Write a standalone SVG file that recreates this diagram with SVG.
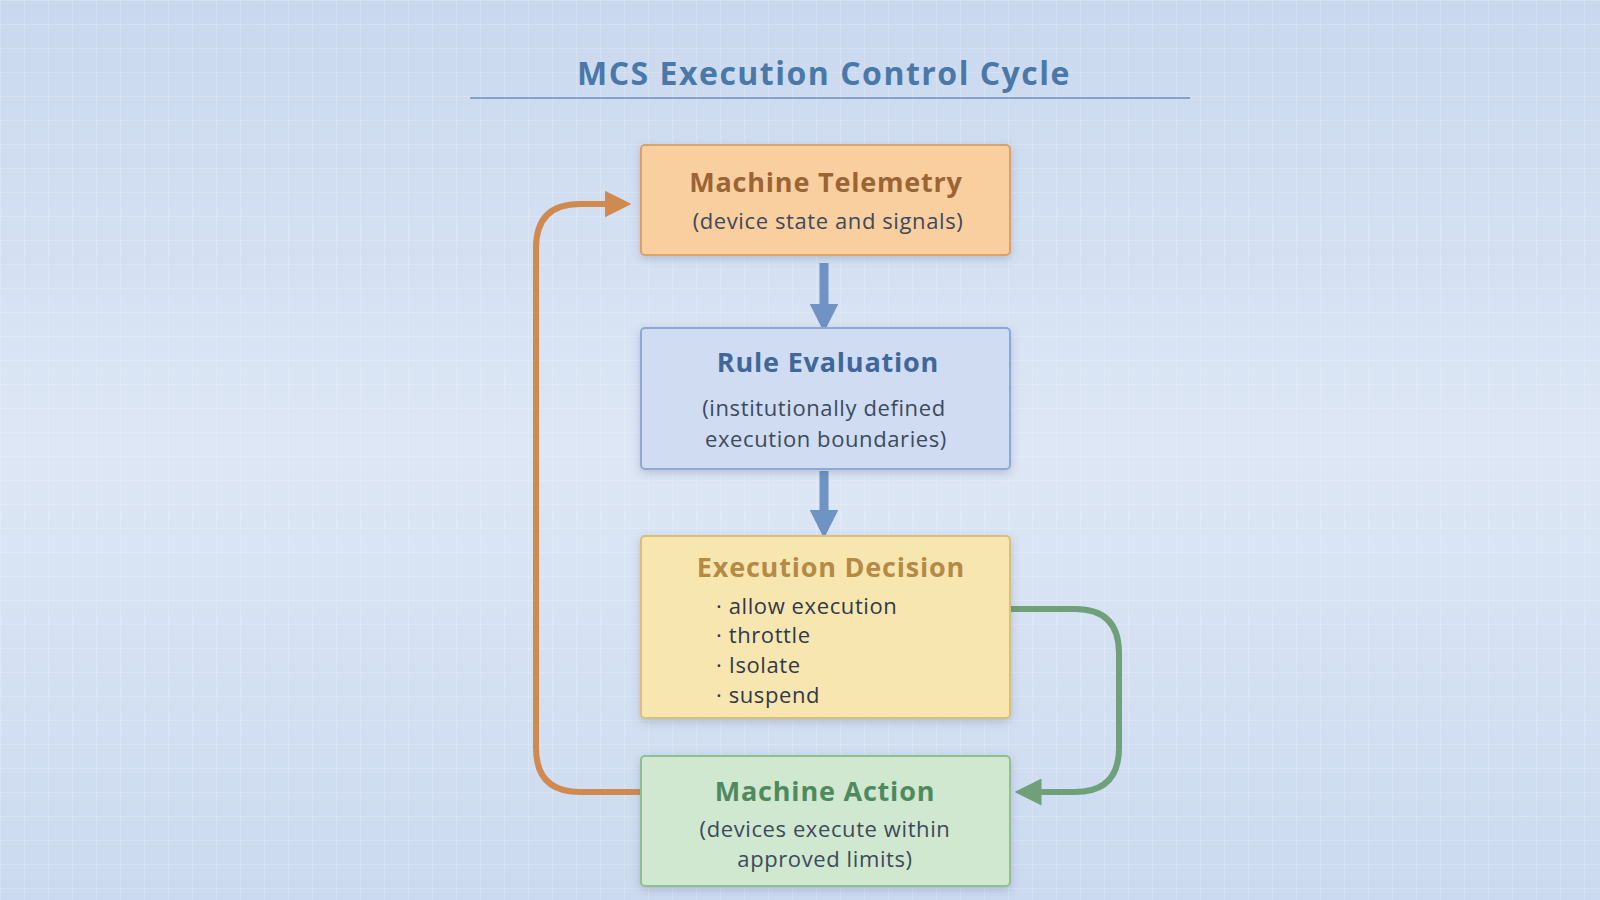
<svg xmlns="http://www.w3.org/2000/svg" width="1600" height="900" viewBox="0 0 1600 900">
<defs>
<linearGradient id="bg" x1="0" y1="0" x2="0" y2="1"><stop offset="0" stop-color="#c9d8ef"/><stop offset="0.5" stop-color="#dde7f5"/><stop offset="1" stop-color="#cbdaf0"/></linearGradient>
<pattern id="grid" width="24" height="24" patternUnits="userSpaceOnUse"><path d="M24 0H0V24" fill="none" stroke="#ffffff" stroke-opacity="0.35" stroke-width="1"/></pattern>
<filter id="sh" x="-10%" y="-10%" width="120%" height="130%"><feDropShadow dx="0" dy="3" stdDeviation="4" flood-color="#3a5070" flood-opacity="0.25"/></filter>
<marker id="ab" viewBox="0 0 10 10" refX="5" refY="5" markerWidth="3.2" markerHeight="3.2" orient="auto"><path d="M0 0L10 5L0 10z" fill="#6f93c4"/></marker>
<marker id="ao" viewBox="0 0 10 10" refX="5" refY="5" markerWidth="4.5" markerHeight="4.5" orient="auto"><path d="M0 0L10 5L0 10z" fill="#d08a4f"/></marker>
<marker id="ag" viewBox="0 0 10 10" refX="5" refY="5" markerWidth="4.5" markerHeight="4.5" orient="auto"><path d="M0 0L10 5L0 10z" fill="#6fa07a"/></marker>
</defs>
<style>
.t{font-family:"Open Sans","Noto Sans",sans-serif;font-weight:bold;font-size:27px;text-anchor:middle;letter-spacing:0.8px}
.s{font-family:"Open Sans","Noto Sans",sans-serif;font-size:22px;fill:#3d4a5c;text-anchor:middle;letter-spacing:0.6px}
.b{font-family:"Open Sans","Noto Sans",sans-serif;font-size:22px;fill:#2f3a48;letter-spacing:0.6px}
</style>
<rect width="1600" height="900" fill="url(#bg)"/>
<rect width="1600" height="900" fill="url(#grid)"/>
<text x="824" y="85" font-family="Open Sans,Noto Sans,sans-serif" font-weight="bold" font-size="32" letter-spacing="1.5" fill="#4a78a8" text-anchor="middle">MCS Execution Control Cycle</text>
<line x1="470" y1="98" x2="1190" y2="98" stroke="#6f8fb5" stroke-width="1.5"/>
<g id="connectors" fill="none">
<path d="M824 263V318" stroke="#6f93c4" stroke-width="9" marker-end="url(#ab)"/>
<path d="M824 471V524" stroke="#6f93c4" stroke-width="9" marker-end="url(#ab)"/>
<path d="M641 792H580Q536 792 536 748V248Q536 204 580 204H618" stroke="#d08a4f" stroke-width="6" marker-end="url(#ao)"/>
<path d="M1010 609H1075Q1119 609 1119 653V748Q1119 792 1075 792H1028" stroke="#6fa07a" stroke-width="6" marker-end="url(#ag)"/>
</g>
<g id="telemetry"><rect x="641" y="145" width="369" height="110" rx="4" fill="#f9cf9f" stroke="#d9a26a" stroke-width="2" filter="url(#sh)"/>
<text class="t" x="826" y="192" fill="#9a6435">Machine Telemetry</text>
<text class="s" x="828" y="229">(device state and signals)</text></g>
<g id="rule"><rect x="641" y="328" width="369" height="141" rx="4" fill="#cfdcf2" stroke="#8ea8d6" stroke-width="2" filter="url(#sh)"/>
<text class="t" x="828" y="372" fill="#40679a">Rule Evaluation</text>
<text class="s" x="824" y="416">(institutionally defined</text>
<text class="s" x="826" y="447">execution boundaries)</text></g>
<g id="decision"><rect x="641" y="536" width="369" height="182" rx="4" fill="#f8e6b0" stroke="#d8bf7a" stroke-width="2" filter="url(#sh)"/>
<text class="t" x="831" y="577" fill="#b48a45">Execution Decision</text>
<text class="b" x="716" y="614">·  allow execution</text>
<text class="b" x="716" y="643">·  throttle</text>
<text class="b" x="716" y="673">·  Isolate</text>
<text class="b" x="716" y="703">·  suspend</text></g>
<g id="action"><rect x="641" y="756" width="369" height="130" rx="4" fill="#cfe8cf" stroke="#8fbf93" stroke-width="2" filter="url(#sh)"/>
<text class="t" x="825" y="801" fill="#4f8a5f">Machine Action</text>
<text class="s" x="825" y="837">(devices execute within</text>
<text class="s" x="825" y="867">approved limits)</text></g>
</svg>
